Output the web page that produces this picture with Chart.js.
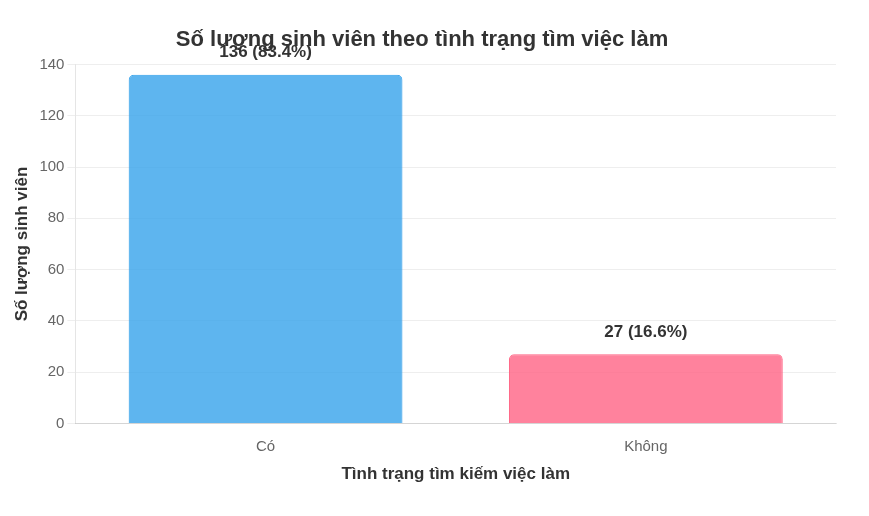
<!DOCTYPE html>
<html lang="vi">
<head>
<meta charset="utf-8">
<title>Số lượng sinh viên theo tình trạng tìm việc làm</title>
<script src="https://cdn.jsdelivr.net/npm/chart.js@4.4.1/dist/chart.umd.min.js"></script>
<style>
  body { margin: 0; background: #fff; }
  .chart-box { width: 840px; height: 500px; position: relative; }
</style>
</head>
<body>
<div class="chart-box"><canvas id="jobChart"></canvas></div>
<script>
const categories = ["Có", "Không"];
const studentCounts = [136, 27];
const barColors = ["rgba(54, 162, 235, 0.8)", "rgba(255, 99, 132, 0.8)"];
const barBorders = ["rgba(54, 162, 235, 1)", "rgba(255, 99, 132, 1)"];

const total = studentCounts.reduce((sum, v) => sum + v, 0);

// draws "count (percent)" above each bar
const valueLabels = {
  id: "valueLabels",
  afterDatasetsDraw(chart) {
    const { ctx } = chart;
    const meta = chart.getDatasetMeta(0);
    ctx.save();
    ctx.font = "bold 17px 'Liberation Sans', Arial, sans-serif";
    ctx.fillStyle = "#333";
    ctx.textAlign = "center";
    ctx.textBaseline = "middle";
    meta.data.forEach((bar, i) => {
      const value = studentCounts[i];
      const pct = ((value / total) * 100).toFixed(1);
      ctx.fillText(`${value} (${pct}%)`, bar.x, bar.y - 22);
    });
    ctx.restore();
  }
};

Chart.defaults.font.family = "'Liberation Sans', Arial, sans-serif";

new Chart(document.getElementById("jobChart"), {
  type: "bar",
  data: {
    labels: categories,
    datasets: [{
      label: "Số lượng sinh viên",
      data: studentCounts,
      backgroundColor: barColors,
      borderColor: barBorders,
      borderWidth: 1,
      borderRadius: 5,
      borderSkipped: "bottom"
    }]
  },
  options: {
    responsive: true,
    maintainAspectRatio: false,
    animation: false,
    layout: { padding: { top: 0, bottom: 11, left: 8, right: 4 } },
    plugins: {
      legend: { display: false },
      tooltip: { enabled: false },
      title: {
        display: true,
        text: "Số lượng sinh viên theo tình trạng tìm việc làm",
        font: { size: 22, weight: "bold" },
        color: "#333",
        padding: { top: 27, bottom: 11 }
      }
    },
    scales: {
      y: {
        beginAtZero: true,
        max: 140,
        ticks: { stepSize: 20, color: "#666", font: { size: 15 } },
        grid: { color: "#eeeeee" },
        title: {
          display: true,
          text: "Số lượng sinh viên",
          font: { size: 17, weight: "bold" },
          color: "#333"
        }
      },
      x: {
        grid: { display: false },
        ticks: { color: "#666", font: { size: 15 }, padding: 6 },
        title: {
          display: true,
          text: "Tình trạng tìm kiếm việc làm",
          font: { size: 17, weight: "bold" },
          color: "#333",
          padding: { top: 3 }
        }
      }
    }
  },
  plugins: [valueLabels]
});
</script>
</body>
</html>
